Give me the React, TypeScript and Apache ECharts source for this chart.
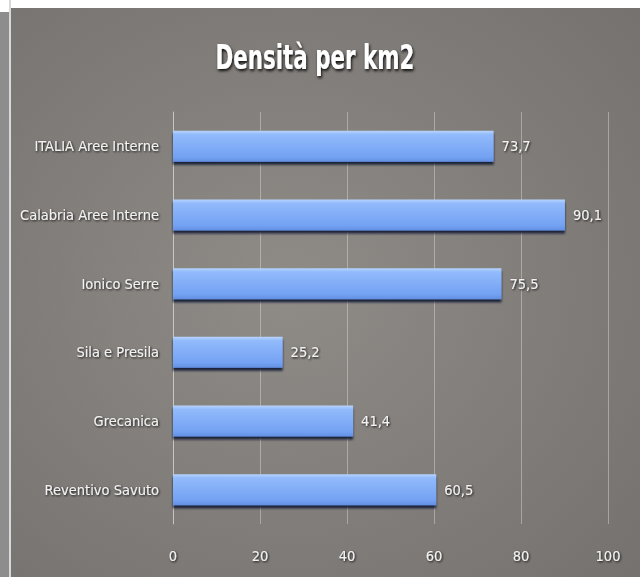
import React, { useEffect, useRef } from "react";
import * as echarts from "echarts";

const categories = [
  "ITALIA Aree Interne",
  "Calabria Aree Interne",
  "Ionico Serre",
  "Sila e Presila",
  "Grecanica",
  "Reventivo Savuto",
];
const values = [73.7, 90.1, 75.5, 25.2, 41.4, 60.5];
const xTicks = { min: 0, max: 100, interval: 20 };
const titleText = "Densità per km2";

const FONT = "'Liberation Sans Narrow', 'DejaVu Sans Condensed', 'Arial Narrow', sans-serif";

export default function App() {
  const ref = useRef<HTMLDivElement>(null);
  useEffect(() => {
    if (!ref.current) return;
    const chart = echarts.init(ref.current, null, { renderer: "svg" });
    const textShadow = {
      color: "#f2f2f2",
      fontFamily: FONT,
      fontSize: 14.5,
      textShadowColor: "rgba(0,0,0,0.85)",
      textShadowBlur: 2,
      textShadowOffsetX: 1,
      textShadowOffsetY: 1,
    };
    chart.setOption({
      animation: false,
      backgroundColor: {
        type: "radial",
        x: 0.45,
        y: 0.5,
        r: 0.75,
        colorStops: [
          { offset: 0, color: "#8f8b87" },
          { offset: 1, color: "#75716e" },
        ],
      },
      graphic: [
        { type: "rect", shape: { x: 0, y: 0, width: 640, height: 8 }, style: { fill: "#ffffff" } },
        { type: "rect", shape: { x: 0, y: 0, width: 11, height: 577 }, style: { fill: "#8d8d8d" } },
        { type: "rect", shape: { x: 0, y: 0, width: 11, height: 12 }, style: { fill: "#ffffff" } },
        { type: "rect", shape: { x: 9, y: 0, width: 2, height: 577 }, style: { fill: "#d8d8d8" } },
        {
          type: "text",
          x: 315,
          y: 57,
          scaleX: 0.7,
          style: {
            text: titleText,
            align: "center",
            verticalAlign: "middle",
            fill: "#ffffff",
            fontFamily: FONT,
            fontWeight: "bold",
            fontSize: 34,
            textShadowColor: "rgba(0,0,0,0.9)",
            textShadowBlur: 3,
            textShadowOffsetX: 1,
            textShadowOffsetY: 2,
          },
        },
      ],
      grid: { left: 173, right: 32, top: 112, bottom: 53, containLabel: false },
      xAxis: {
        type: "value",
        min: xTicks.min,
        max: xTicks.max,
        interval: xTicks.interval,
        axisLine: { show: false },
        axisTick: { show: false },
        splitLine: { show: true, lineStyle: { color: "rgba(225,220,215,0.45)", width: 1 } },
        axisLabel: { ...textShadow, margin: 24 },
      },
      yAxis: {
        type: "category",
        data: categories,
        inverse: true,
        axisLine: { show: true, lineStyle: { color: "rgba(225,220,215,0.55)", width: 1 } },
        axisTick: { show: false },
        axisLabel: { ...textShadow, margin: 14 },
      },
      series: [
        {
          type: "bar",
          data: values,
          barWidth: 31,
          itemStyle: {
            color: {
              type: "linear",
              x: 0,
              y: 0,
              x2: 0,
              y2: 1,
              colorStops: [
                { offset: 0, color: "#b8d5ff" },
                { offset: 0.12, color: "#92bbfc" },
                { offset: 0.85, color: "#73a1f2" },
                { offset: 1, color: "#628fe2" },
              ],
            },
            shadowColor: "rgba(10,20,50,0.9)",
            shadowBlur: 2,
            shadowOffsetX: 0,
            shadowOffsetY: 3,
          },
          label: {
            show: true,
            position: "right",
            distance: 8,
            ...textShadow,
            formatter: (p: any) => String(p.value).replace(".", ","),
          },
        },
      ],
    });
    return () => chart.dispose();
  }, []);
  return (
    <div
      ref={ref}
      style={{ position: "absolute", left: 0, top: 0, width: 640, height: 577 }}
    />
  );
}
